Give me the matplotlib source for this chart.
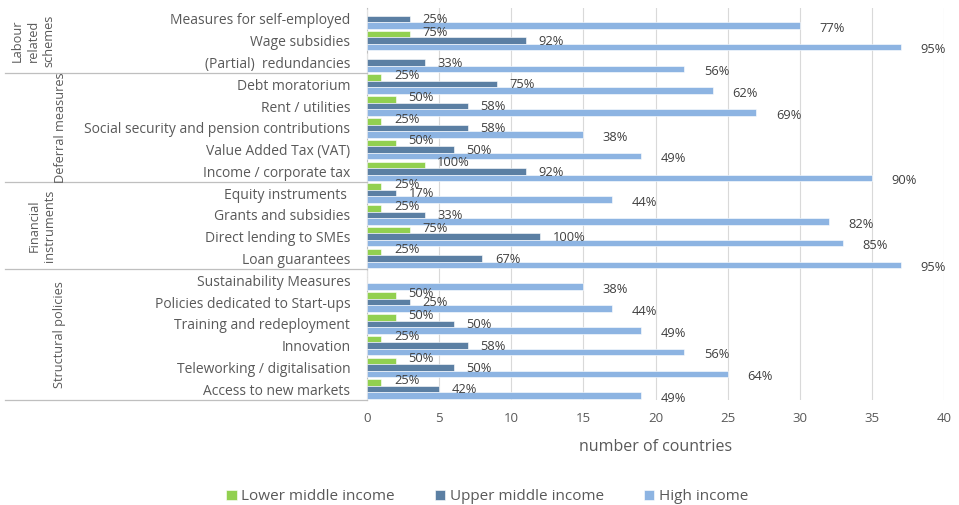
import matplotlib
matplotlib.use("Agg")
import matplotlib.pyplot as plt
import numpy as np

categories = [
    "Measures for self-employed",
    "Wage subsidies",
    "(Partial)  redundancies",
    "Debt moratorium",
    "Rent / utilities",
    "Social security and pension contributions",
    "Value Added Tax (VAT)",
    "Income / corporate tax",
    "Equity instruments ",
    "Grants and subsidies",
    "Direct lending to SMEs",
    "Loan guarantees",
    "Sustainability Measures",
    "Policies dedicated to Start-ups",
    "Training and redeployment",
    "Innovation",
    "Teleworking / digitalisation",
    "Access to new markets",
]
lower_middle = [0, 3, 0, 1, 2, 1, 2, 4, 1, 1, 3, 1, 0, 2, 2, 1, 2, 1]
upper_middle = [3, 11, 4, 9, 7, 7, 6, 11, 2, 4, 12, 8, 0, 3, 6, 7, 6, 5]
high_income = [30, 37, 22, 24, 27, 15, 19, 35, 17, 32, 33, 37, 15, 17, 19, 22, 25, 19]
group_totals = [4, 12, 39]
series_names = ["Lower middle income", "Upper middle income", "High income"]
groups = [("Labour\nrelated\nschemes", 0, 2), ("Deferral measures", 3, 7),
          ("Financial\ninstruments", 8, 11), ("Structural policies", 12, 17)]
x_ticks = [0, 5, 10, 15, 20, 25, 30, 35, 40]

colors = ["#92D050", "#5B7FA3", "#8DB4E2"]
txt = "#595959"
plt.rcParams["font.family"] = ["Open Sans", "DejaVu Sans"]

W, H = 959, 505
fig = plt.figure(figsize=(W / 100, H / 100), dpi=100)
x0, x1, y0, y1 = 367, 944, 8, 400
ax = fig.add_axes([x0 / W, 1 - y1 / H, (x1 - x0) / W, (y1 - y0) / H])

n = len(categories)
y = np.arange(n)
bh = 0.3
series = [lower_middle, upper_middle, high_income]
offsets = [-bh, 0, bh]
for s, (vals, off, c, tot, name) in enumerate(zip(series, offsets, colors, group_totals, series_names)):
    ax.barh(y + off, vals, height=bh, color=c, edgecolor="white", linewidth=0.4, label=name, zorder=3)
    for yi, v in zip(y, vals):
        if v > 0:
            dx = 9 if s < 2 else 14
            dy = [1.5, -0.5, -2][s]
            ax.annotate(f"{round(v / tot * 100)}%", (v, yi + off), xytext=(dx, dy),
                        textcoords="offset points", va="center", ha="left",
                        fontsize=9.3, color="#404040", zorder=4)

ax.set_xlim(0, 40)
ax.set_ylim(n - 0.5, -0.5)
ax.set_xticks(x_ticks)
ax.set_xticklabels([str(t) for t in x_ticks])
ax.set_yticks(y)
ax.set_yticklabels(categories, fontsize=10)
ax.tick_params(axis="both", length=0, colors=txt, labelsize=9.5)
ax.tick_params(axis="y", pad=12, labelsize=10)
ax.tick_params(axis="x", pad=9)
ax.grid(axis="x", color="#D9D9D9", linewidth=0.8, zorder=0)
for sp in ["top", "right", "bottom"]:
    ax.spines[sp].set_visible(False)
ax.spines["left"].set_color("#BFBFBF")
ax.spines["left"].set_linewidth(0.8)
ax.set_xlabel("number of countries", color=txt, fontsize=11.5, labelpad=10)

# group separators
tr = ax.get_yaxis_transform()
left_ax = (5 - x0) / (x1 - x0)
for g in groups:
    yb = g[2] + 0.5
    ax.plot([left_ax, 0], [yb, yb], transform=tr, color="#BFBFBF", linewidth=0.9, clip_on=False)

# group labels
group_x = [33, 60, 42, 60]
for (label, a, b), gx in zip(groups, group_x):
    ymid = (a + b) / 2
    yp = y0 + (ymid + 0.5) / n * (y1 - y0)
    fig.text(gx / W, 1 - yp / H, label, rotation=90, ha="center", va="center",
             color=txt, fontsize=9.2, linespacing=1.3)

fig.legend(loc="lower center", bbox_to_anchor=(0.508, -0.026), ncol=3, frameon=False,
           fontsize=11, labelcolor=txt, handlelength=0.7, handleheight=0.7,
           handletextpad=0.3, columnspacing=2.6)

fig.savefig("out.png", dpi=100)
